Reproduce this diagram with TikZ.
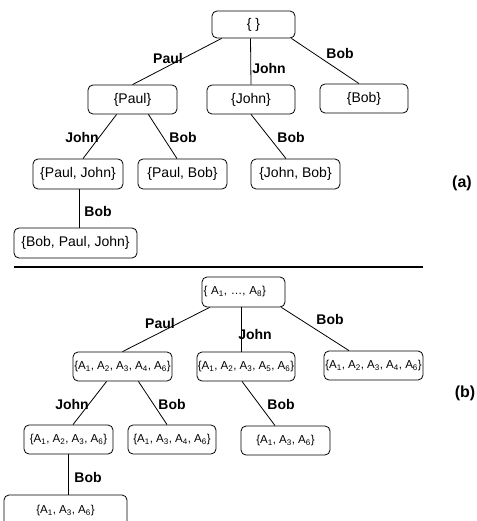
\documentclass[tikz,border=0pt]{standalone}
\usepackage{fontspec}
\setmainfont{Liberation Sans}
\newcommand\As[1]{A\textsubscript{#1}}
\begin{document}
\begin{tikzpicture}[x=1pt,y=-1pt,
  box/.style={draw, rounded corners=5pt, line width=0.8pt, inner sep=0pt,
    font=\fontsize{14}{16}\selectfont},
  sbox/.style={box, font=\fontsize{11.5}{13}\selectfont},
  lab/.style={font=\bfseries\fontsize{14}{16}\selectfont, inner sep=0pt},
  part/.style={font=\bfseries\fontsize{16}{18}\selectfont, inner sep=0pt},
  edge/.style={line width=0.8pt},
  sep/.style={line width=1.6pt}]
\useasboundingbox (0,0) rectangle (476,521);
% ---------- (a) ----------
\node[box, minimum width=83pt, minimum height=27pt] (r) at (253.5,24.5) {\{ \}};
\node[box, minimum width=89pt, minimum height=29pt] (p) at (132.5,99.5) {\{Paul\}};
\node[box, minimum width=88pt, minimum height=29pt] (j) at (251,99.5) {\{John\}};
\node[box, minimum width=88pt, minimum height=29pt] (b) at (364,98.5) {\{Bob\}};
\node[box, minimum width=90pt, minimum height=30pt] (pj) at (78,174) {\{Paul, John\}};
\node[box, minimum width=89pt, minimum height=30pt] (pb) at (182.5,174) {\{Paul, Bob\}};
\node[box, minimum width=89pt, minimum height=30pt] (jb) at (295.5,174) {\{John, Bob\}};
\node[box, minimum width=123pt, minimum height=30pt] (bpj) at (75.5,243) {\{Bob, Paul, John\}};

\draw[edge] ([xshift=10pt]r.south west) -- (p.north);
\draw[edge] ([xshift=-3pt]r.south) -- (j.north);
\draw[edge] ([xshift=-4pt]r.south east) -- ([xshift=-5pt]b.north);
\draw[edge] ([xshift=29pt]p.south west) -- ([xshift=5pt]pj.north);
\draw[edge] ([xshift=-29pt]p.south east) -- ([xshift=-5.5pt]pb.north);
\draw[edge] (j.south) -- ([xshift=-9.5pt]jb.north);
\draw[edge] ([xshift=1pt]pj.south) -- ([xshift=1pt]pj.south |- bpj.north);

\node[lab] (l1) at (168,58) {Paul};
\node[lab] (l2) at (269,68) {John};
\node[lab] (l3) at (340,53) {Bob};
\node[lab] (l4) at (82,137) {John};
\node[lab] (l5) at (183,137) {Bob};
\node[lab] (l6) at (291,137) {Bob};
\node[lab] (l7) at (98,211) {Bob};
\node[part] (pa) at (462,183) {(a)};

% ---------- separator ----------
\coordinate (s1) at (14,267);
\coordinate (s2) at (423,267);
\draw[sep] (s1) -- (s2);

% ---------- (b) ----------
\node[sbox, minimum width=83pt, minimum height=30pt, text width=80pt, align=left] (R) at (243.5,292) {\{ \As{1}, \dots, \As{8}\}};
\node[sbox, minimum width=99pt, minimum height=29pt] (B1) at (122.5,366.5) {\{\As{1}, \As{2}, \As{3}, \As{4}, \As{6}\}};
\node[sbox, minimum width=98pt, minimum height=29pt] (B2) at (246,366.5) {\{\As{1}, \As{2}, \As{3}, \As{5}, \As{6}\}};
\node[sbox, minimum width=99pt, minimum height=29pt] (B3) at (373.5,365.5) {\{\As{1}, \As{2}, \As{3}, \As{4}, \As{6}\}};
\node[sbox, minimum width=89pt, minimum height=29pt] (B4) at (68.5,439.5) {\{\As{1}, \As{2}, \As{3}, \As{6}\}};
\node[sbox, minimum width=88pt, minimum height=29pt] (B5) at (172,439.5) {\{\As{1}, \As{3}, \As{4}, \As{6}\}};
\node[sbox, minimum width=89pt, minimum height=29pt] (B6) at (285.5,440.5) {\{\As{1}, \As{3}, \As{6}\}};
\node[sbox, minimum width=123pt, minimum height=32pt] (B7) at (65.5,511) {\{\As{1}, \As{3}, \As{6}\}};

\draw[edge] ([xshift=8pt]R.south west) -- (B1.north);
\draw[edge] ([xshift=-2.5pt]R.south) -- ([xshift=-5pt]B2.north);
\draw[edge] ([xshift=-4pt]R.south east) -- ([xshift=-24.5pt]B3.north);
\draw[edge] ([xshift=34pt]B1.south west) -- ([xshift=4.5pt]B4.north);
\draw[edge] ([xshift=-34pt]B1.south east) -- ([xshift=-5pt]B5.north);
\draw[edge] ([xshift=-4pt]B2.south) -- ([xshift=-10.5pt]B6.north);
\draw[edge] (B4.south) -- (B4.south |- B7.north);

\node[lab] (m1) at (160,323) {Paul};
\node[lab] (m2) at (255,334) {John};
\node[lab] (m3) at (330,319) {Bob};
\node[lab] (m4) at (72,404) {John};
\node[lab] (m5) at (172,404) {Bob};
\node[lab] (m6) at (281,404) {Bob};
\node[lab] (m7) at (88,477) {Bob};
\node[part] (pb2) at (465,393) {(b)};
\end{tikzpicture}
\end{document}
